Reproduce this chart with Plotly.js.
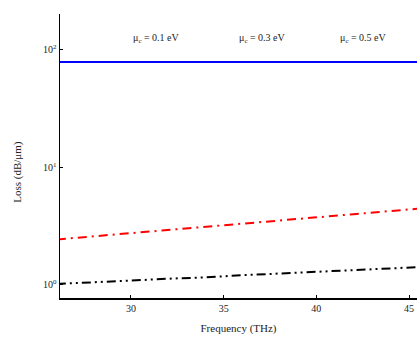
<!DOCTYPE html>
<html>
<head>
<meta charset="utf-8">
<script src="https://cdn.plot.ly/plotly-3.0.1.min.js"></script>
<style>html,body{margin:0;padding:0;background:#fff;}#chart{width:417px;height:339px;}</style>
</head>
<body>
<div id="chart"></div>
<script>
const freq = [26, 28, 30, 32, 34, 36, 38, 40, 42, 44, 46];
const loss01 = [79, 79, 79, 79, 79, 79, 79, 79, 79, 79, 79];
const loss03 = [2.44, 2.59, 2.76, 2.94, 3.12, 3.32, 3.53, 3.76, 4.00, 4.26, 4.53];
const loss05 = [1.02, 1.05, 1.09, 1.13, 1.16, 1.21, 1.25, 1.29, 1.33, 1.38, 1.43];
const seriesNames = ["μ<sub>c</sub> = 0.1 eV", "μ<sub>c</sub> = 0.3 eV", "μ<sub>c</sub> = 0.5 eV"];
const yTickVals = [1, 10, 100];
const yTickText = ["10<sup>0</sup>", "10<sup>1</sup>", "10<sup>2</sup>"];
const xTickVals = [30, 35, 40, 45];

const font = {family: "Liberation Serif, Times New Roman, serif", size: 10, color: "#222"};

const traces = [
  {x: freq, y: loss01, mode: "lines", name: seriesNames[0], line: {color: "#0000ff", width: 2}},
  {x: freq, y: loss03, mode: "lines", name: seriesNames[1], line: {color: "#ff0000", width: 2, dash: "9px,5px,2px,5px"}},
  {x: freq, y: loss05, mode: "lines", name: seriesNames[2], line: {color: "#000000", width: 2, dash: "9px,4px,2px,4px,2px,4px"}}
];

const layout = {
  width: 417, height: 339,
  margin: {l: 60, r: 0, t: 14, b: 41, pad: 0},
  paper_bgcolor: "#fff", plot_bgcolor: "#fff",
  showlegend: false,
  font: font,
  xaxis: {
    range: [26.17, 45.43], tickvals: xTickVals, ticks: "inside", ticklen: 3, tickcolor: "#000",
    showline: true, linecolor: "#000", linewidth: 1.5, showgrid: false, zeroline: false,
    mirror: false, tickfont: font,
    title: {text: "Frequency (THz)", font: {family: font.family, size: 11, color: "#222"}, standoff: 12}
  },
  yaxis: {
    type: "log", range: [-0.111, 2.306], tickvals: yTickVals, ticktext: yTickText,
    ticks: "inside", ticklen: 3, tickcolor: "#000",
    showline: true, linecolor: "#000", linewidth: 1.5, showgrid: false, zeroline: false,
    tickfont: font
  },
  annotations: seriesNames.map((t, i) => ({
    text: t, xref: "paper", yref: "paper", x: [0.2, 0.495, 0.78][i], y: 0.915,
    xanchor: "left", yanchor: "middle", showarrow: false, font: {family: font.family, size: 10, color: "#222"}
  })).concat([{
    text: "Loss (dB/μm)", xref: "paper", yref: "paper", x: -0.118, y: 0.444,
    xanchor: "center", yanchor: "middle", textangle: -90, showarrow: false,
    font: {family: font.family, size: 11, color: "#222"}
  }])
};

Plotly.newPlot("chart", traces, layout, {displayModeBar: false, staticPlot: true});
</script>
</body>
</html>
